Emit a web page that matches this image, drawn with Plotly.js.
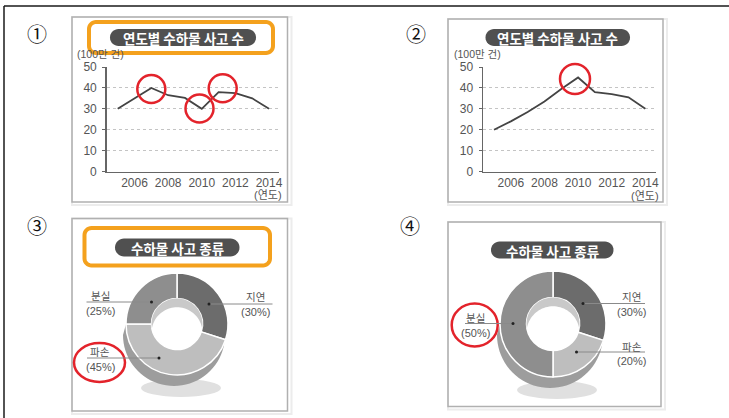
<!DOCTYPE html>
<html><head><meta charset="utf-8">
<script src="https://cdn.plot.ly/plotly-3.0.1.min.js"></script>
<style>html,body{margin:0;padding:0;background:#fff;}#chart{width:729px;height:418px;}</style>
</head><body><div id="chart"></div>
<script>
// ---- data ----
const years = [2005, 2006, 2007, 2008, 2009, 2010, 2011, 2012, 2013, 2014];
const accidents1 = [30, 35, 40, 36.5, 35.2, 30, 38, 37.5, 35, 30];
const accidents2 = [20, 24, 28.5, 33.5, 39.5, 45, 38, 37, 35.5, 30];
const xTickVals = [2006, 2008, 2010, 2012, 2014];
const yTickVals = [0, 10, 20, 30, 40, 50];
const lineTitle = '연도별 수하물 사고 수';
const pieTitle = '수하물 사고 종류';
const yUnit = '(100만 건)';
const xUnit = '(연도)';
const pieLabels = ['지연', '파손', '분실'];
const pie3Values = [30, 45, 25];
const pie4Values = [30, 20, 50];
const pieColors = ['#6c6c6c', '#bebebe', '#8e8e8e'];
const panelMarks = ['①', '②', '③', '④'];

// ---- helpers (pixel -> paper) ----
const W = 729, H = 418;
const X = v => v / W, Y = v => 1 - v / H;
function pathOf(pts) { return 'M' + pts.map(p => X(p[0]).toFixed(5) + ',' + Y(p[1]).toFixed(5)).join('L') + 'Z'; }
function arc(cx, cy, rx, ry, a0, a1, n) { const o = []; for (let i = 0; i <= n; i++) { const a = a0 + (a1 - a0) * i / n; o.push([cx + rx * Math.cos(a), cy + ry * Math.sin(a)]); } return o; }
function roundRect(x0, y0, x1, y1, r) {
  const P = Math.PI;
  return [].concat(arc(x1 - r, y0 + r, r, r, -P / 2, 0, 8), arc(x1 - r, y1 - r, r, r, 0, P / 2, 8),
    arc(x0 + r, y1 - r, r, r, P / 2, P, 8), arc(x0 + r, y0 + r, r, r, P, 1.5 * P, 8));
}
const shapes = [];
const ann = [];
const FONT = 'Liberation Sans, Noto Sans CJK KR, sans-serif';
const KFONT = 'Noto Sans CJK KR, sans-serif';

// outer black border (top and left)
shapes.push({type: 'line', xref: 'paper', yref: 'paper', x0: X(4), x1: 1, y0: Y(6), y1: Y(6), line: {color: '#1a1a1a', width: 1.5}});
shapes.push({type: 'line', xref: 'paper', yref: 'paper', x0: X(4), x1: X(4), y0: Y(6), y1: 0, line: {color: '#1a1a1a', width: 1.5}});

// panel frames
[[72, 17, 287.5, 202], [448, 19, 663, 202], [72, 218.5, 287.5, 411], [448, 222, 661, 406.5]].forEach(f => {
  shapes.push({type: 'rect', xref: 'paper', yref: 'paper', x0: X(f[0]), x1: X(f[2] + 4), y0: Y(f[1]), y1: Y(f[3] + 3), line: {color: '#ececec', width: 2}, layer: 'below'});
  shapes.push({type: 'rect', xref: 'paper', yref: 'paper', x0: X(f[0]), x1: X(f[2]), y0: Y(f[1]), y1: Y(f[3]), line: {color: '#b0b0b0', width: 1.5}, layer: 'below'});
});

// title pills
[[110, 29, 256, 46, lineTitle, 13.5], [485.5, 29, 630, 46, lineTitle, 13.5], [115, 238.5, 239.5, 256.5, pieTitle, 13.5], [491, 241.5, 613.5, 258.5, pieTitle, 13.5]].forEach(p => {
  const r = (p[3] - p[1]) / 2;
  shapes.push({type: 'path', xref: 'paper', yref: 'paper', path: pathOf(roundRect(p[0], p[1], p[2], p[3], r)), fillcolor: '#505050', line: {width: 0}, layer: 'above'});
  ann.push({xref: 'paper', yref: 'paper', x: X((p[0] + p[2]) / 2), y: Y((p[1] + p[3]) / 2 + 0.5), text: '<b>' + p[4] + '</b>', showarrow: false, font: {family: KFONT, size: p[5], color: '#ffffff'}, xanchor: 'center', yanchor: 'middle'});
});

// orange highlight boxes
[[89, 22, 273, 53], [84.5, 228, 270, 265.5]].forEach(b => {
  shapes.push({type: 'path', xref: 'paper', yref: 'paper', path: pathOf(roundRect(b[0], b[1], b[2], b[3], 7)), fillcolor: 'rgba(0,0,0,0)', line: {color: '#f4a11d', width: 4}, layer: 'above'});
});

// circled panel numbers
[[37, 33], [416, 33], [37, 225], [410, 225]].forEach((c, i) => {
  ann.push({xref: 'paper', yref: 'paper', x: X(c[0]), y: Y(c[1]), text: panelMarks[i], showarrow: false, font: {family: KFONT, size: 20, color: '#111'}, xanchor: 'center', yanchor: 'middle'});
});

// unit labels for line charts
[[100, 54.5, 268, 194.5], [477, 54, 645, 195.5]].forEach(u => {
  ann.push({xref: 'paper', yref: 'paper', x: X(u[0]), y: Y(u[1]), text: yUnit, showarrow: false, font: {family: FONT, size: 10.5, color: '#555'}, xanchor: 'center', yanchor: 'middle'});
  ann.push({xref: 'paper', yref: 'paper', x: X(u[2]), y: Y(u[3]), text: xUnit, showarrow: false, font: {family: FONT, size: 11, color: '#555'}, xanchor: 'center', yanchor: 'middle'});
});

// red circles
[[151.3, 89, 14, 14], [199.5, 108.5, 14, 14], [222.7, 88.3, 14, 14], [575, 79, 15, 15], [99.5, 362.5, 25.5, 19.5], [474.7, 325, 23, 21.5]].forEach(c => {
  shapes.push({type: 'circle', xref: 'paper', yref: 'paper', x0: X(c[0] - c[2]), x1: X(c[0] + c[2]), y0: Y(c[1] - c[3]), y1: Y(c[1] + c[3]), line: {color: '#e3232b', width: 2.5}, layer: 'above'});
});

// donut 3D decoration (side wall, shadow, inner wall)
const donuts = [{cx: 177, cy: 324, R: 51}, {cx: 553, cy: 324, R: 53}];
donuts.forEach(d => {
  const P = Math.PI, t = 11, rh = d.R * 0.5;
  shapes.push({type: 'circle', xref: 'paper', yref: 'paper', x0: X(d.cx - 36), x1: X(d.cx + 44), y0: Y(d.cy + d.R + 4), y1: Y(d.cy + d.R + 22), fillcolor: '#e0e0e0', line: {width: 0}, layer: 'below'});
  const side = [].concat(arc(d.cx - 3, d.cy + t, d.R, d.R, 0, P, 40), arc(d.cx, d.cy, d.R, d.R, P, 0, 40));
  shapes.push({type: 'path', xref: 'paper', yref: 'paper', path: pathOf(side), fillcolor: '#9d9d9d', line: {width: 0}, layer: 'below'});
  const h = t * 0.8;
  const yi = h / 2, xi = Math.sqrt(rh * rh - yi * yi), ai = Math.atan2(yi, xi);
  const inner = [].concat(arc(d.cx, d.cy, rh, rh, P - ai, 2 * P + ai, 40), arc(d.cx, d.cy + h, rh, rh, -ai, -P + ai, 40));
  shapes.push({type: 'path', xref: 'paper', yref: 'paper', path: pathOf(inner), fillcolor: '#c9c9c9', line: {width: 0}, layer: 'above'});
});

// pie labels with leader lines
function pieLabel(tx, ty, text, pct, lx0, lx1, ly, dotx) {
  ann.push({xref: 'paper', yref: 'paper', x: X(tx), y: Y(ty), text: text, showarrow: false, font: {family: KFONT, size: 10.5, color: '#555'}, xanchor: 'center', yanchor: 'middle'});
  ann.push({xref: 'paper', yref: 'paper', x: X(tx), y: Y(ty + 15), text: '(' + pct + '%)', showarrow: false, font: {family: FONT, size: 11, color: '#555'}, xanchor: 'center', yanchor: 'middle'});
  shapes.push({type: 'line', xref: 'paper', yref: 'paper', x0: X(lx0), x1: X(lx1), y0: Y(ly), y1: Y(ly), line: {color: '#8a8a8a', width: 1}, layer: 'above'});
  shapes.push({type: 'circle', xref: 'paper', yref: 'paper', x0: X(dotx - 1.5), x1: X(dotx + 1.5), y0: Y(ly - 1.5), y1: Y(ly + 1.5), fillcolor: '#222', line: {width: 0}, layer: 'above'});
}
pieLabel(255, 296.5, pieLabels[0], pie3Values[0], 209, 272.5, 304, 209);
pieLabel(100, 351.5, pieLabels[1], pie3Values[1], 87, 159, 358, 159);
pieLabel(100, 295.5, pieLabels[2], pie3Values[2], 86.5, 151.5, 302, 151.5);
pieLabel(631.5, 296.5, pieLabels[0], pie4Values[0], 583, 645, 303.5, 583);
pieLabel(631.5, 346, pieLabels[1], pie4Values[1], 576.5, 645, 352, 576.5);
pieLabel(475, 317.5, pieLabels[2], pie4Values[2], 465, 513, 323.5, 513);

const lineStyle = {color: '#444', width: 1.8};
const data = [
  {type: 'scatter', mode: 'lines', x: years, y: accidents1, line: lineStyle, xaxis: 'x', yaxis: 'y', hoverinfo: 'skip', showlegend: false},
  {type: 'scatter', mode: 'lines', x: years, y: accidents2, line: lineStyle, xaxis: 'x2', yaxis: 'y2', hoverinfo: 'skip', showlegend: false},
  {type: 'pie', labels: pieLabels, values: pie3Values, hole: 0.5, sort: false, direction: 'clockwise', rotation: 0, textinfo: 'none', textposition: 'none', hoverinfo: 'skip', showlegend: false,
    marker: {colors: pieColors, line: {color: '#ffffff', width: 1.5}}, domain: {x: [X(126), X(228)], y: [Y(375), Y(273)]}},
  {type: 'pie', labels: pieLabels, values: pie4Values, hole: 0.5, sort: false, direction: 'clockwise', rotation: 0, textinfo: 'none', textposition: 'none', hoverinfo: 'skip', showlegend: false,
    marker: {colors: pieColors, line: {color: '#ffffff', width: 1.5}}, domain: {x: [X(500), X(606)], y: [Y(377), Y(271)]}}
];

function xAx(x0, x1, anchor) {
  return {domain: [X(x0), X(x1)], range: [2004.345, 2014.61], tickvals: xTickVals, ticktext: xTickVals.map(String), showgrid: false, zeroline: false,
    showline: true, linecolor: '#666', linewidth: 1.5, ticks: '', tickfont: {family: FONT, size: 12, color: '#555'}, anchor: anchor, fixedrange: true};
}
function yAx(anchor) {
  return {domain: [Y(171.5), Y(67)], range: [0, 50], tickvals: yTickVals, showgrid: true, gridcolor: '#c4c4c4', griddash: 'dot', gridwidth: 1, zeroline: false,
    showline: true, linecolor: '#666', linewidth: 1.5, ticks: 'outside', ticklen: 3, tickcolor: '#666', ticklabelstandoff: 3,
    tickfont: {family: FONT, size: 12, color: '#555'}, anchor: anchor, fixedrange: true};
}

const layout = {
  width: W, height: H, margin: {l: 0, r: 0, t: 0, b: 0}, paper_bgcolor: '#fff', plot_bgcolor: 'rgba(0,0,0,0)',
  showlegend: false,
  xaxis: xAx(106.7, 279.3, 'y'), yaxis: yAx('x'),
  xaxis2: xAx(483, 655.6, 'y2'), yaxis2: yAx('x2'),
  shapes: shapes, annotations: ann
};
Plotly.newPlot('chart', data, layout, {staticPlot: true, displayModeBar: false});
</script></body></html>
